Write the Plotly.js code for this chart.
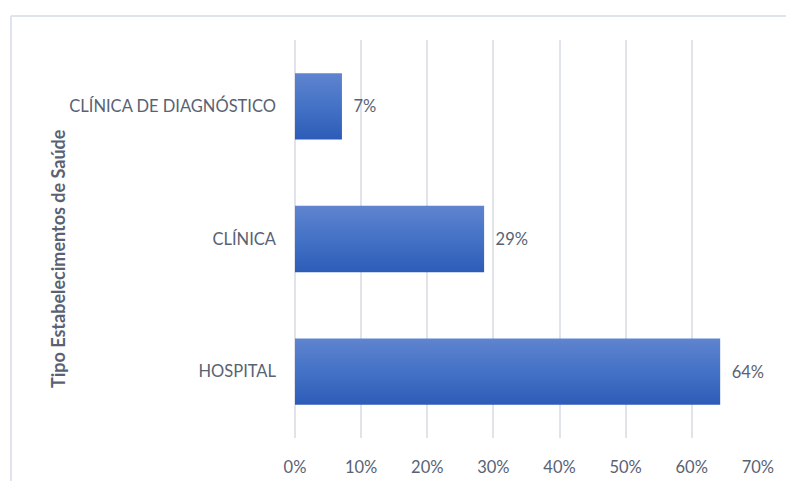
<!DOCTYPE html>
<html>
<head>
<meta charset="utf-8">
<script src="https://cdn.plot.ly/plotly-3.0.1.min.js"></script>
<style>
  html, body { margin: 0; padding: 0; background: #ffffff; }
  #chart { width: 786px; height: 481px; }
</style>
</head>
<body>
<div id="chart"></div>
<script>
// Share of health establishments by type
const categories = ['HOSPITAL', 'CLÍNICA', 'CLÍNICA DE DIAGNÓSTICO'];
const shares = [0.643, 0.286, 0.071];
const xTickVals = [0, 0.1, 0.2, 0.3, 0.4, 0.5, 0.6, 0.7];
const xTickText = ['0%', '10%', '20%', '30%', '40%', '50%', '60%', '70%'];
const axisTitle = 'Tipo Estabelecimentos de Saúde';

const textColor = '#596273';
const gridColor = '#e0e3ea';
const frameColor = '#dfe3ec';
const fontFamily = 'Lato, "Noto Sans", sans-serif';
const fontSize = 16.5;

// plot area in pixels: left 295, right 758, top 40, bottom 438
const W = 786, H = 481;
const L = 295, R = 28, T = 40, B = 43;
const pw = W - L - R, ph = H - T - B;
const px = x => (x - L) / pw;
const py = y => (H - B - y) / ph;

const trace = {
  type: 'bar',
  orientation: 'h',
  x: shares,
  y: categories,
  marker: { color: '#4472c4', line: { width: 0 } },
  texttemplate: '\u00a0\u00a0%{x:.0%}',
  textposition: 'outside',
  cliponaxis: false,
  textfont: { family: fontFamily, size: fontSize, color: textColor },
  hoverinfo: 'none'
};

const layout = {
  width: W,
  height: H,
  margin: { l: L, r: R, t: T, b: B, pad: 0 },
  paper_bgcolor: '#ffffff',
  plot_bgcolor: '#ffffff',
  showlegend: false,
  bargap: 0.5,
  font: { family: fontFamily, size: fontSize, color: textColor },
  xaxis: {
    range: [0, 0.7002],
    tickvals: xTickVals,
    ticktext: xTickText,
    showgrid: true,
    gridcolor: gridColor,
    gridwidth: 2,
    zeroline: true,
    zerolinecolor: gridColor,
    zerolinewidth: 2,
    showline: false,
    ticks: '',
    ticklabelstandoff: 17,
    tickfont: { family: fontFamily, size: fontSize, color: textColor },
    fixedrange: true
  },
  yaxis: {
    type: 'category',
    showgrid: false,
    zeroline: false,
    showline: false,
    ticks: '',
    ticklabelstandoff: 18,
    tickfont: { family: fontFamily, size: fontSize, color: textColor },
    fixedrange: true
  },
  annotations: [{
    text: '<b>' + axisTitle + '</b>',
    textangle: -90,
    xref: 'paper', yref: 'paper',
    x: px(58), y: py(259),
    xanchor: 'center', yanchor: 'middle',
    showarrow: false,
    font: { family: fontFamily, size: 18, color: textColor }
  }],
  shapes: [
    { type: 'line', xref: 'paper', yref: 'paper',
      x0: px(11), x1: px(11), y0: py(16), y1: py(481),
      line: { color: frameColor, width: 2 } },
    { type: 'line', xref: 'paper', yref: 'paper',
      x0: px(11), x1: px(790), y0: py(16), y1: py(16),
      line: { color: frameColor, width: 2 } }
  ]
};

Plotly.newPlot('chart', [trace], layout, { displayModeBar: false, staticPlot: true }).then(gd => {
  // vertical gradient fill on the bars, lighter on top
  const svg = gd.querySelector('svg.main-svg');
  const ns = 'http://www.w3.org/2000/svg';
  let defs = svg.querySelector('defs');
  if (!defs) { defs = document.createElementNS(ns, 'defs'); svg.insertBefore(defs, svg.firstChild); }
  const grad = document.createElementNS(ns, 'linearGradient');
  grad.setAttribute('id', 'barFill');
  grad.setAttribute('x1', '0'); grad.setAttribute('y1', '0');
  grad.setAttribute('x2', '0'); grad.setAttribute('y2', '1');
  [['0%', '#5f84cf'], ['50%', '#4472c6'], ['100%', '#2d5cb8']].forEach(([o, c]) => {
    const s = document.createElementNS(ns, 'stop');
    s.setAttribute('offset', o);
    s.setAttribute('stop-color', c);
    grad.appendChild(s);
  });
  defs.appendChild(grad);
  gd.querySelectorAll('.bars .point path').forEach(p => { p.style.fill = 'url(#barFill)'; });
});
</script>
</body>
</html>
